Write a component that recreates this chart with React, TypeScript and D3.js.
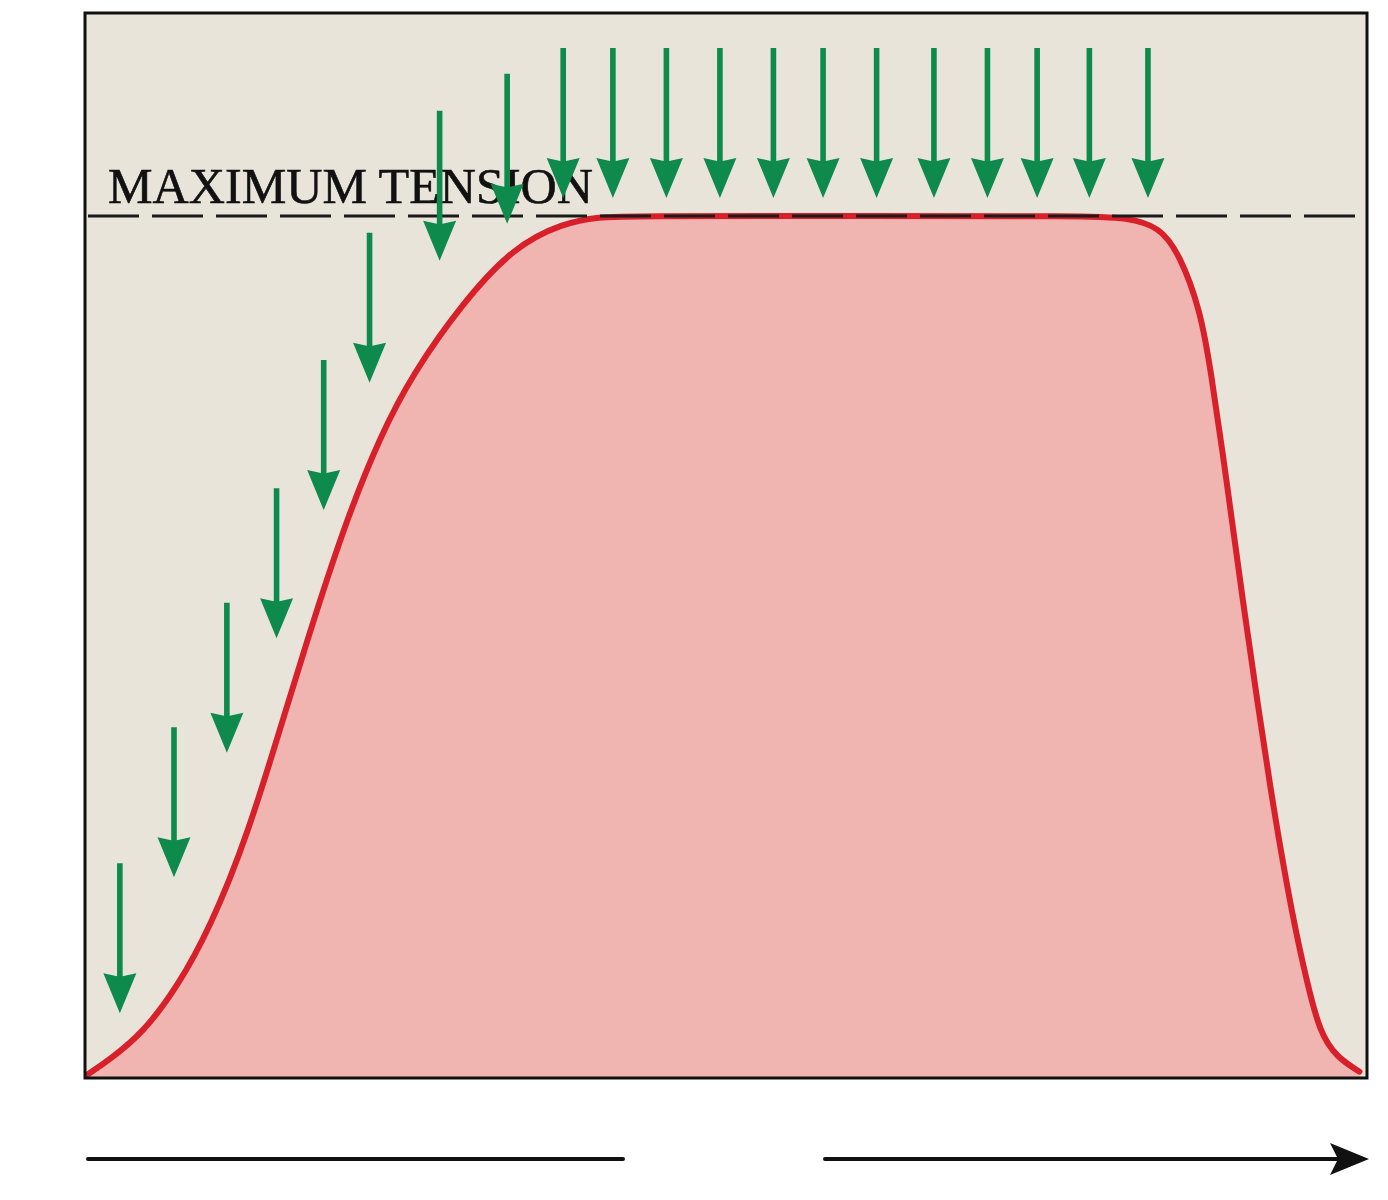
import React from "react";
import * as d3 from "d3";

// Time (0–100) and tension (% of maximum)
const curveTime = [0, 1.7, 4.3, 7.0, 9.6, 12.5, 15.6, 17.7, 20.3, 22.9, 25.5, 29.4, 33.4, 37.3, 40.2, 42.5, 60, 78.5, 81.5, 84.1, 85.7, 87.3, 88.1, 89.4, 90.4, 92.9, 94.6, 95.7, 96.7, 98.0, 99.8];
const curveTension = [0.2, 1.9, 5.0, 10.3, 17.3, 27.8, 42.9, 53.0, 64.7, 74.3, 81.7, 89.9, 96.4, 99.2, 99.9, 100, 100, 100, 99.8, 98.8, 95.5, 89.1, 82.4, 69.0, 57.7, 32.1, 18.1, 10.8, 5.0, 2.2, 0.5];

// Stimulus arrows: time position and height of arrow tip (tension units)
const stimTime = [2.5, 6.75, 10.9, 14.8, 18.5, 22.1, 27.6, 32.9, 37.3, 41.2, 45.4, 49.6, 53.8, 57.7, 61.9, 66.4, 70.6, 74.5, 78.6, 83.2];
const stimTip = [7.3, 23.1, 37.6, 50.9, 65.8, 80.6, 94.8, 99.1, 102.1, 102.1, 102.1, 102.1, 102.1, 102.1, 102.1, 102.1, 102.1, 102.1, 102.1, 102.1];

const maxLabel = "MAXIMUM TENSION";

export default function App() {
  const W = 1388, H = 1200;
  const box = { l: 85, r: 1367, t: 13, b: 1078 };
  const x = d3.scaleLinear().domain([0, 100]).range([88, 1362]);
  const y = d3.scaleLinear().domain([0, 100]).range([1076, 216]);

  const pts = curveTime.map((t, i) => [t, curveTension[i]] as [number, number]);
  const crv = d3.curveBasis;
  const line = d3.line<[number, number]>().x(d => x(d[0])).y(d => y(d[1])).curve(crv);
  const area = d3.area<[number, number]>().x(d => x(d[0])).y0(y(0) + 2).y1(d => y(d[1])).curve(crv);

  const arrowLen = 150, headLen = 37, headHalf = 16.5, shaftHalf = 2.8;
  const arrowPath = (cx: number, tipY: number) => {
    const top = tipY - arrowLen;
    const hb = tipY - headLen;
    return `M${cx - shaftHalf},${top} L${cx + shaftHalf},${top} L${cx + shaftHalf},${hb} L${cx + headHalf},${hb - 3} L${cx},${tipY} L${cx - headHalf},${hb - 3} L${cx - shaftHalf},${hb} Z`;
  };

  const green = "#0e8a4d";

  return (
    <svg width={W} height={H} style={{ position: "absolute", left: 0, top: 0, display: "block", background: "#ffffff" }}>
      <rect x={box.l} y={box.t} width={box.r - box.l} height={box.b - box.t} fill="#e8e4da" />
      <path d={area(pts) || ""} fill="#f0b4b1" />
      <path d={line(pts) || ""} fill="none" stroke="#d8202b" strokeWidth={6} strokeLinecap="round" />
      <line x1={88} x2={box.r} y1={y(100)} y2={y(100)} stroke="#1a1a1a" strokeWidth={3} strokeDasharray="51 13" />
      <text x={108} y={203} fontFamily="'Liberation Serif', 'DejaVu Serif', serif" fontSize={50} fill="#111" stroke="#111" strokeWidth={0.6} textLength={485} lengthAdjust="spacingAndGlyphs">{maxLabel}</text>
      {stimTime.map((t, i) => (
        <path key={i} d={arrowPath(x(t), y(stimTip[i]))} fill={green} />
      ))}
      <rect x={box.l} y={box.t} width={box.r - box.l} height={box.b - box.t} fill="none" stroke="#111" strokeWidth={3} />
      <line x1={88} x2={623} y1={1159} y2={1159} stroke="#111" strokeWidth={4} strokeLinecap="round" />
      <line x1={825} x2={1345} y1={1159} y2={1159} stroke="#111" strokeWidth={4} strokeLinecap="round" />
      <path d="M1330,1143 L1369,1159 L1330,1175 L1338,1159 Z" fill="#111" />
    </svg>
  );
}
